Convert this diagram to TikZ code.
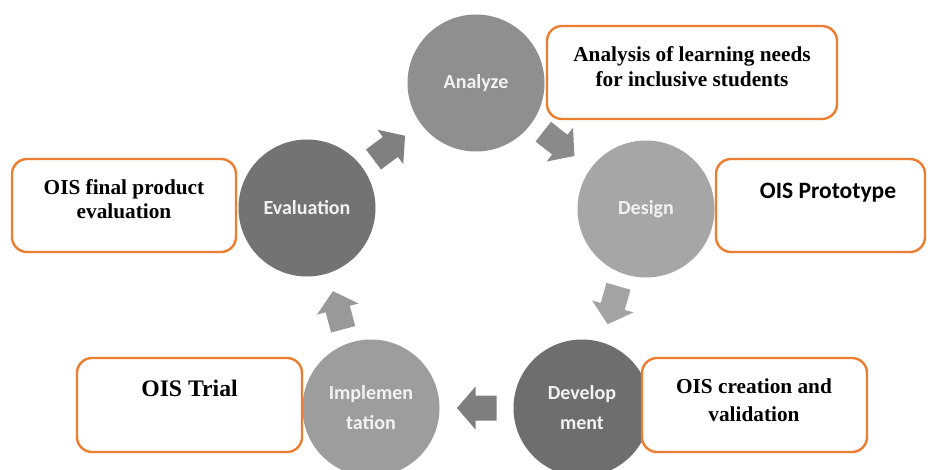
\documentclass[tikz,border=0pt]{standalone}
\usepackage{fontspec}
\setmainfont{Liberation Serif}
\newfontfamily\carl{Carlito}
\usetikzlibrary{calc}
\definecolor{orng}{HTML}{ED7D31}
\definecolor{cAn}{HTML}{8F8F8F}
\definecolor{cDe}{HTML}{A6A6A6}
\definecolor{cDv}{HTML}{6E6E6E}
\definecolor{cIm}{HTML}{9D9D9D}
\definecolor{cEv}{HTML}{737373}
\definecolor{aOne}{HTML}{8A8A8A}
\definecolor{aTwo}{HTML}{A3A3A3}
\definecolor{aThree}{HTML}{7E7E7E}
\definecolor{aFour}{HTML}{999999}
\definecolor{aFive}{HTML}{808080}
\definecolor{ltext}{HTML}{F2F2F2}
\begin{document}
\begin{tikzpicture}[x=1pt,y=-1pt,
  phase/.style={circle, minimum size=137pt, inner sep=0pt, text=ltext,
    font=\carl\bfseries\fontsize{20}{30}\selectfont, align=center},
  outbox/.style={draw=orng, line width=2.4pt, rounded corners=15pt, fill=white, inner sep=0pt},
  boxtxt/.style={font=\bfseries\fontsize{21.3}{24.5}\selectfont, align=center, inner sep=0pt},
  pics/blkarr/.style={code={\fill[pic actions] (-20,-12.5) -- (1,-12.5) -- (1,-21.5) -- (19.5,0) -- (1,21.5) -- (1,12.5) -- (-20,12.5) -- cycle;}}]
\useasboundingbox (0,0) rectangle (928,470);
\clip (0,0) rectangle (928,470);
\fill[white] (0,0) rectangle (928,470);
% phases
\node[phase, fill=cAn] (an) at (476,83) {Analyze};
\node[phase, fill=cDe] (de) at (646,209) {Design};
\node[phase, fill=cDv] (dv) at (582,408) {Develop\\ment};
\node[phase, fill=cIm] (im) at (371,408) {Implemen\\tation};
\node[phase, fill=cEv] (ev) at (307,208) {Evaluation};
% block arrows
\pic[fill=aOne, rotate=-38] at ($(an)!0.5!(de)+(-2,-2)$) {blkarr};
\pic[fill=aTwo, rotate=-106] at ($(de)!0.5!(dv)+(-1,-3)$) {blkarr};
\pic[fill=aThree, rotate=180] at ($(dv)!0.5!(im)$) {blkarr};
\pic[fill=aFour, rotate=105] at ($(im)!0.5!(ev)+(-1,2)$) {blkarr};
\pic[fill=aFive, rotate=37] at ($(ev)!0.5!(an)+(-2,2)$) {blkarr};
% boxes
\node[outbox, minimum width=290pt, minimum height=93pt] (b1) at (692,72.5) {};
\node[outbox, minimum width=209pt, minimum height=93pt] (b2) at (820.5,205.5) {};
\node[outbox, minimum width=224pt, minimum height=93pt] (b3) at (124,205.5) {};
\node[outbox, minimum width=225pt, minimum height=94pt] (b4) at (189.5,405) {};
\node[outbox, minimum width=225pt, minimum height=94pt] (b5) at (754.5,405) {};
% box texts
\node[boxtxt] (t1) at (692,66.6) {Analysis of learning needs\\for inclusive students};
\node[boxtxt, font=\carl\bfseries\fontsize{23.5}{28}\selectfont, anchor=base] (t2) at (828,198.3) {OIS Prototype};
\node[boxtxt] (t3) at (124,199) {OIS final product\\evaluation};
\node[boxtxt, font=\bfseries\fontsize{23.7}{28}\selectfont, anchor=base] (t4) at (189.5,396) {OIS Trial};
\node[boxtxt, font=\bfseries\fontsize{21.3}{27.5}\selectfont] (t5) at (754,400) {OIS creation and\\validation};
\end{tikzpicture}
\end{document}
